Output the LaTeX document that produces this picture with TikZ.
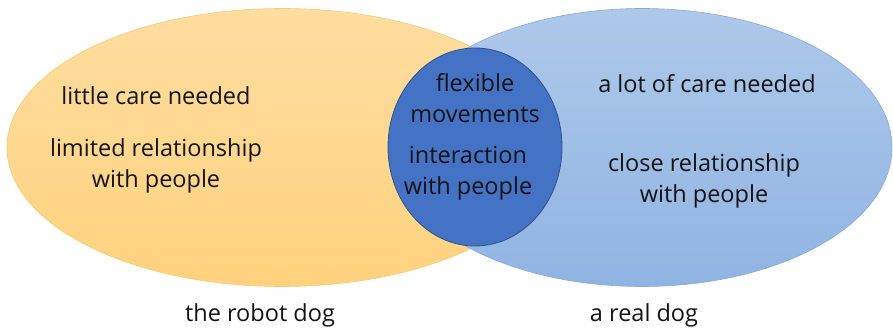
\documentclass[tikz,border=0pt]{standalone}
\usepackage{fontspec}
\setmainfont{Open Sans}
\definecolor{ytop}{HTML}{FFDDA0}
\definecolor{ybot}{HTML}{FFD27E}
\definecolor{yedge}{HTML}{F5CB78}
\definecolor{btop}{HTML}{AEC8EA}
\definecolor{bbot}{HTML}{90B4E2}
\definecolor{bedge}{HTML}{8AAAD6}
\definecolor{cfill}{HTML}{4472C4}
\definecolor{cedge}{HTML}{2F528F}
\definecolor{txt}{HTML}{141414}
\begin{document}
\begin{tikzpicture}[x=1pt,y=-1pt,
  lbl/.style={font=\fontsize{23.5}{30.5}\selectfont, text=txt, align=center, inner sep=0pt},
  caplbl/.style={font=\fontsize{23.5}{28}\selectfont, text=txt, inner sep=0pt}]
\useasboundingbox (0,0) rectangle (893,331);
\shade[top color=ytop, bottom color=ybot, draw=yedge, line width=0.6pt]
  (282,147.5) ellipse [x radius=275, y radius=139];
\shade[top color=btop, bottom color=bbot, draw=bedge, line width=0.6pt]
  (642,147.5) ellipse [x radius=250, y radius=139];
\fill[cfill, draw=cedge, line width=0.8pt]
  (475,147) ellipse [x radius=87, y radius=99];
\node[lbl] (care1) at (156,96) {little care needed};
\node[lbl] (rel1) at (156,166) {limited relationship\\with people};
\node[lbl] (mid1) at (475,98) {flexible\\movements};
\node[lbl] (mid2) at (468,173) {interaction\\with people};
\node[lbl] (care2) at (707,84) {a lot of care needed};
\node[lbl] (rel2) at (704,181) {close relationship\\with people};
\node[caplbl] (robot) at (260,315) {the robot dog};
\node[caplbl] (real) at (644,315) {a real dog};
\end{tikzpicture}
\end{document}
